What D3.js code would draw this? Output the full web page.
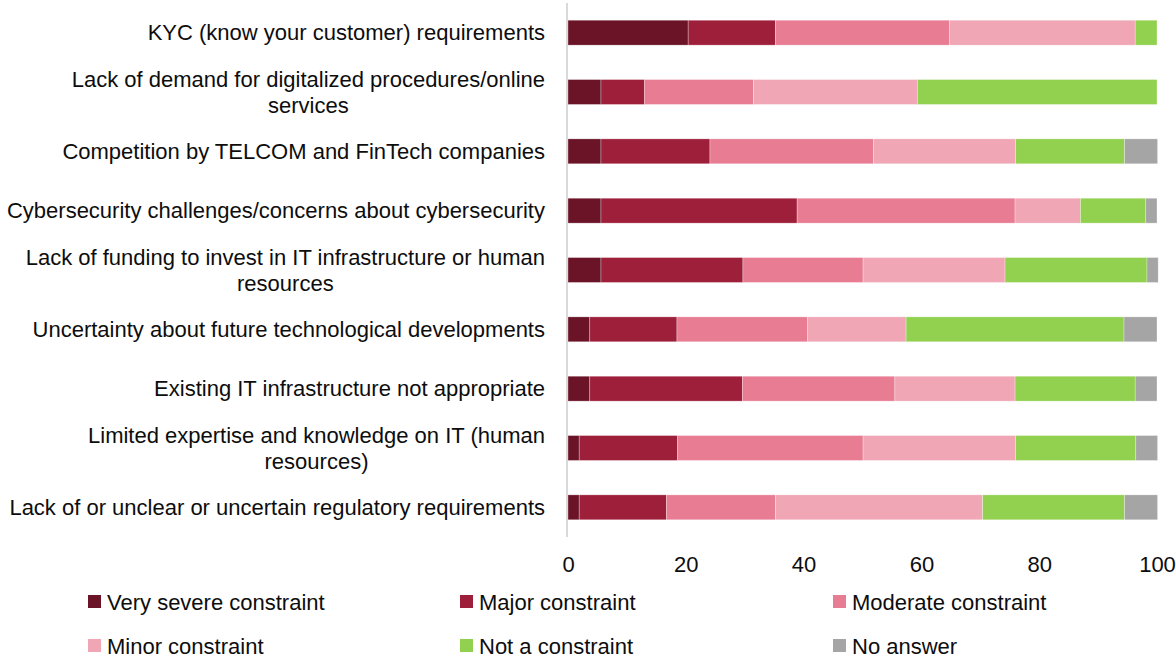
<!DOCTYPE html>
<html>
<head>
<meta charset="utf-8">
<script src="https://cdn.jsdelivr.net/npm/d3@7"></script>
<style>
  body { margin: 0; background: #fff; }
  text { font-family: "Liberation Sans", Arial, sans-serif; fill: #0d0d0d; }
</style>
</head>
<body>
<div id="chart"></div>
<script>
// categories, top to bottom (each entry = label lines)
var categories = [
    ["KYC (know your customer) requirements"],
    ["Lack of demand for digitalized procedures/online", "services"],
    ["Competition by TELCOM and FinTech companies"],
    ["Cybersecurity challenges/concerns about cybersecurity"],
    ["Lack of funding to invest in IT infrastructure or human", "resources"],
    ["Uncertainty about future technological developments"],
    ["Existing IT infrastructure not appropriate"],
    ["Limited expertise and knowledge on IT (human", "resources)"],
    ["Lack of or unclear or uncertain regulatory requirements"]
];

var seriesNames = ["Very severe constraint", "Major constraint", "Moderate constraint",
                   "Minor constraint", "Not a constraint", "No answer"];
var seriesColors = ["#6b1428", "#9e1f3a", "#e77c93", "#f0a6b5", "#92d050", "#a5a5a5"];

// share of respondents (%), one array per series, same order as categories
var verySevere = [20.4, 5.6, 5.6, 5.6, 5.6, 3.7, 3.7, 1.9, 1.9];
var major      = [14.8, 7.4, 18.5, 33.3, 24.1, 14.8, 25.9, 16.7, 14.8];
var moderate   = [29.6, 18.5, 27.8, 37.0, 20.4, 22.2, 25.9, 31.5, 18.5];
var minor      = [31.5, 27.8, 24.1, 11.1, 24.1, 16.7, 20.4, 25.9, 35.2];
var notAConstr = [3.7, 40.7, 18.5, 11.1, 24.1, 37.0, 20.4, 20.4, 24.1];
var noAnswer   = [0, 0, 5.6, 1.9, 1.9, 5.6, 3.7, 3.7, 5.6];

var xTicks = [0, 20, 40, 60, 80, 100];

var seriesValues = [verySevere, major, moderate, minor, notAConstr, noAnswer];

var w = 1176, h = 660;
var fontSize = "22px";

var svg = d3.select("#chart").append("svg")
    .attr("width", w)
    .attr("height", h);

var xScale = d3.scaleLinear().domain([0, 100]).range([568, 1157]);

var keys = categories.map(function(c, i) { return i; });
var yScale = d3.scaleBand()
    .domain(keys)
    .range([3, 537])
    .paddingInner(0.58)
    .paddingOuter(0.29);

// build rows for stacking
var rows = keys.map(function(i) {
    var r = {key: i};
    seriesNames.forEach(function(s, j) { r[s] = seriesValues[j][i]; });
    return r;
});
var stacked = d3.stack().keys(seriesNames)(rows);

var color = d3.scaleOrdinal().domain(seriesNames).range(seriesColors);

// bars
svg.append("g").selectAll("g")
    .data(stacked)
    .join("g")
    .attr("fill", function(d) { return color(d.key); })
    .selectAll("rect")
    .data(function(d) { return d; })
    .join("rect")
    .attr("x", function(d) { return xScale(d[0]); })
    .attr("y", function(d) { return yScale(d.data.key); })
    .attr("width", function(d) { return Math.max(0, xScale(d[1]) - xScale(d[0])); })
    .attr("height", yScale.bandwidth())
    .attr("stroke", "#fff")
    .attr("stroke-opacity", 0.5)
    .attr("stroke-width", 0.6);

// vertical axis line
svg.append("line")
    .attr("x1", xScale(0) - 1).attr("x2", xScale(0) - 1)
    .attr("y1", 3).attr("y2", 537)
    .attr("stroke", "#d9d9d9")
    .attr("stroke-width", 2);

// x axis tick labels
var xAxis = d3.axisBottom(xScale).tickValues(xTicks).tickSize(0).tickPadding(0);
var gx = svg.append("g")
    .attr("transform", "translate(0,556)")
    .call(xAxis);
gx.select(".domain").remove();
gx.selectAll("text")
    .style("font-family", "'Liberation Sans', Arial, sans-serif")
    .style("font-size", fontSize)
    .attr("fill", "#0d0d0d");

// category labels
var labelRight = 545;
var lineGap = 26;
var labels = svg.append("g");
categories.forEach(function(lines, i) {
    var cy = yScale(i) + yScale.bandwidth() / 2;
    var t = labels.append("text")
        .style("font-size", fontSize)
        .attr("dominant-baseline", "central");
    if (lines.length === 1) {
        t.attr("text-anchor", "end")
            .attr("x", labelRight)
            .attr("y", cy)
            .text(lines[0]);
    } else {
        // measure widest line, then center lines in that block
        var probe = labels.append("text").style("font-size", fontSize).text(lines[0]);
        var wid = probe.node().getComputedTextLength();
        probe.remove();
        var cx = labelRight - wid / 2;
        t.attr("text-anchor", "middle");
        lines.forEach(function(l, k) {
            t.append("tspan")
                .attr("x", cx)
                .attr("y", cy + (k - (lines.length - 1) / 2) * lineGap)
                .text(l);
        });
    }
});

// legend
var legendX = [88, 460, 833];
var legendY = [602, 646];
var legend = svg.append("g");
seriesNames.forEach(function(s, i) {
    var lx = legendX[i % 3], ly = legendY[Math.floor(i / 3)];
    var item = legend.append("g").attr("transform", "translate(" + lx + "," + ly + ")");
    item.append("rect")
        .attr("x", 0).attr("y", -7)
        .attr("width", 13).attr("height", 13)
        .attr("fill", color(s));
    item.append("text")
        .attr("x", 19)
        .attr("y", 0)
        .attr("dominant-baseline", "central")
        .style("font-size", fontSize)
        .text(s);
});
</script>
</body>
</html>
